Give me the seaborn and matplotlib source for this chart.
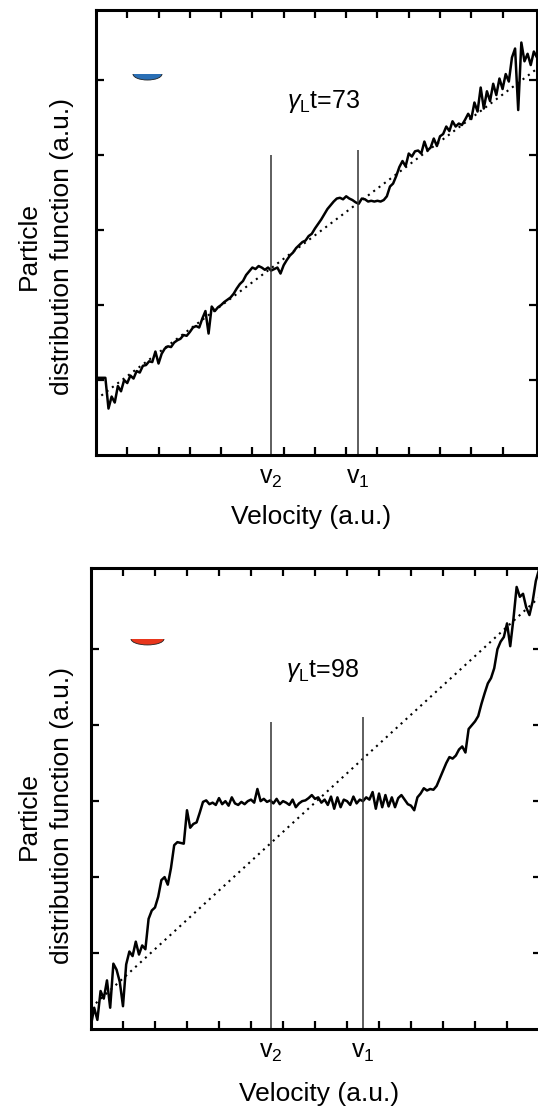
import numpy as np
import pandas as pd
import matplotlib
matplotlib.use("Agg")
import matplotlib.pyplot as plt
import seaborn as sns
from matplotlib.patches import Ellipse, Rectangle

# ---------------- data ----------------
# top panel (gamma_L t = 73): distribution function sampled every 0.1 velocity units
f_top = [1.03, 1.03, 1.03, 1.03, 0.62, 0.78, 0.70, 0.92, 0.85, 1.00,
         0.96, 1.06, 1.02, 1.12, 1.10, 1.19, 1.20, 1.25, 1.24, 1.38,
         1.22, 1.35, 1.42, 1.45, 1.44, 1.50, 1.53, 1.55, 1.60, 1.59,
         1.64, 1.70, 1.72, 1.70, 1.82, 1.92, 1.62, 1.98, 1.92, 1.97,
         2.00, 2.04, 2.07, 2.10, 2.15, 2.22, 2.28, 2.32, 2.40, 2.45,
         2.50, 2.48, 2.52, 2.50, 2.47, 2.50, 2.46, 2.48, 2.50, 2.42,
         2.53, 2.60, 2.66, 2.70, 2.76, 2.80, 2.84, 2.86, 2.92, 2.95,
         3.02, 3.08, 3.14, 3.21, 3.28, 3.33, 3.38, 3.42, 3.43, 3.41,
         3.45, 3.42, 3.40, 3.37, 3.35, 3.42, 3.41, 3.38, 3.39, 3.38,
         3.39, 3.38, 3.40, 3.45, 3.58, 3.62, 3.72, 3.84, 3.92, 3.85,
         4.02, 3.98, 4.05, 4.06, 4.02, 4.18, 4.06, 4.10, 4.22, 4.12,
         4.25, 4.28, 4.38, 4.32, 4.45, 4.38, 4.42, 4.40, 4.47, 4.55,
         4.48, 4.70, 4.58, 4.90, 4.62, 4.85, 4.72, 4.95, 4.80, 5.02,
         4.88, 5.08, 4.98, 5.30, 5.42, 4.60, 5.50, 5.25, 5.35, 5.20,
         5.38, 5.30]
# bottom panel (gamma_L t = 98)
f_bot = [0.05, 0.28, 0.12, 0.50, 0.40, 0.64, 0.28, 0.86, 0.78, 0.62,
         0.30, 0.85, 1.02, 0.96, 1.15, 0.98, 1.10, 1.05, 1.45, 1.56,
         1.60, 1.74, 1.96, 2.00, 1.90, 2.12, 2.42, 2.46, 2.45, 2.44,
         2.88, 2.65, 2.70, 2.72, 2.85, 2.99, 3.01, 2.96, 2.98, 2.95,
         3.04, 2.96, 3.00, 2.94, 3.05, 2.97, 2.95, 2.99, 2.96, 3.00,
         3.02, 2.98, 3.16, 3.00, 3.03, 2.99, 3.01, 2.97, 3.03, 2.96,
         3.00, 2.98, 2.95, 3.02, 2.92, 2.97, 3.00, 3.01, 3.04, 3.08,
         3.03, 3.05, 2.98, 3.02, 2.95, 3.06, 2.90, 3.05, 2.92, 3.02,
         3.00, 2.95, 3.06, 2.97, 3.02, 3.00, 3.05, 3.02, 3.12, 2.90,
         3.10, 2.92, 3.08, 2.93, 3.05, 2.92, 3.04, 3.08, 3.02, 2.96,
         2.94, 2.88, 3.05, 3.10, 3.17, 3.14, 3.16, 3.15, 3.20, 3.30,
         3.40, 3.50, 3.58, 3.56, 3.60, 3.68, 3.72, 3.64, 3.95, 4.00,
         4.05, 4.12, 4.28, 4.42, 4.55, 4.62, 4.75, 5.00, 5.10, 5.16,
         5.34, 5.04, 5.40, 5.82, 5.69, 5.73, 5.55, 5.45, 5.63, 5.90,
         6.05, 6.10]

# initial (linear) distributions, dotted
init_top_v = [0.0, 14.1]
init_top_f = [0.74, 5.15]
init_bot_v = [0.0, 14.1]
init_bot_f = [0.28, 5.72]

# resonant velocities
v_marks_top = [5.6, 8.38]
v_marks_bot = [5.63, 8.5]
v_line_tops_top = [4.0, 4.07]
v_line_tops_bot = [4.04, 4.11]
v_labels = [r"$v_2$", r"$v_1$"]

titles = [r"$\mathit{\gamma}_\mathrm{L}$t=73", r"$\mathit{\gamma}_\mathrm{L}$t=98"]
xlabel = "Velocity (a.u.)"
ylabel = "Particle\ndistribution function (a.u.)"

# ---------------- style ----------------
sns.set_style("ticks")
plt.rcParams["font.family"] = ["Liberation Sans", "DejaVu Sans"]
plt.rcParams["mathtext.fontset"] = "custom"
plt.rcParams["mathtext.rm"] = "Liberation Sans"
plt.rcParams["mathtext.it"] = "Liberation Sans:italic"
plt.rcParams["mathtext.default"] = "regular"
plt.rcParams["text.color"] = "black"
plt.rcParams["axes.labelcolor"] = "black"
plt.rcParams["xtick.color"] = "black"
plt.rcParams["ytick.color"] = "black"

fig = plt.figure(figsize=(5.38, 11.08), dpi=100)
ax1 = fig.add_axes([0.1784, 0.5893, 0.8197, 0.4021])
ax2 = fig.add_axes([0.1691, 0.0713, 0.8364, 0.4161])


def panel(ax, f, iv, iff, vmarks, vtops, title, xmax, ymax, ylab_xy, xlab_xy, blob):
    vel = np.linspace(0, 0.1 * (len(f) - 1), len(f))
    df = pd.DataFrame({"velocity": vel, "f": f})
    sns.lineplot(data=df, x="velocity", y="f", ax=ax, color="black", lw=1.8,
                 estimator=None, sort=False)
    sns.lineplot(x=iv, y=iff, ax=ax, color="black", lw=1.5,
                 linestyle=(0, (1, 2.2)), estimator=None)
    ax.vlines(vmarks, 0, vtops, color="#333333", lw=1.1)
    ax.set_xlim(0, xmax)
    ax.set_ylim(0, ymax)
    ax.set_xticks(range(1, 14))
    ax.set_yticks(range(1, 6))
    ax.tick_params(which="major", direction="in", length=6, width=1.6,
                   top=True, right=True, labelbottom=False, labelleft=False,
                   color="black")
    ax.set_xticks(vmarks, labels=v_labels, minor=True)
    ax.tick_params(axis="x", which="minor", length=0, pad=8, labelsize=18,
                   top=False, labelcolor="black")
    for s in ax.spines.values():
        s.set_linewidth(2.2)
        s.set_color("black")
    ax.set_xlabel(xlabel, fontsize=19, va="center", color="black")
    ax.xaxis.set_label_coords(*xlab_xy)
    ax.set_ylabel(ylabel, fontsize=19, va="center", ha="center",
                  linespacing=1.45, color="black")
    ax.yaxis.set_label_coords(*ylab_xy)
    ax.text(6.1, 4.63, title, fontsize=18, color="black")
    # small coloured mark in upper left
    cx, cy, w, h, col = blob
    e = Ellipse((cx, cy), w, h, transform=ax.transAxes, facecolor=col,
                edgecolor="#222222", lw=0.6)
    ax.add_patch(e)
    clip = Rectangle((cx - w, cy - h), 2 * w, h, transform=ax.transAxes)
    e.set_clip_path(clip)


panel(ax1, f_top, init_top_v, init_top_f, v_marks_top, v_line_tops_top,
      titles[0], 14.1, 5.94, (-0.1145, 0.469), (0.4875, -0.139),
      (0.1168, 0.8552, 0.0658, 0.0269, "#2a6fb5"))
panel(ax2, f_bot, init_bot_v, init_bot_f, v_marks_bot, v_line_tops_bot,
      titles[1], 14.06, 6.07, (-0.101, 0.462), (0.507, -0.141),
      (0.1256, 0.846, 0.0733, 0.026, "#e8361c"))

fig.savefig("out.png", dpi=100)
